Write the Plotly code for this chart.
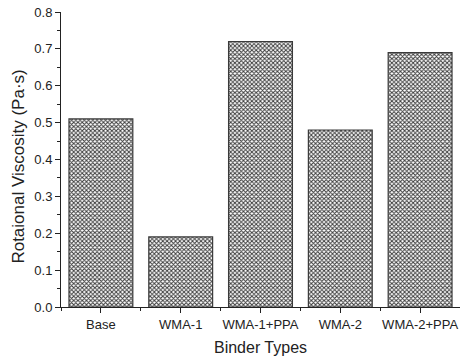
import plotly.graph_objects as go

categories = ["Base", "WMA-1", "WMA-1+PPA", "WMA-2", "WMA-2+PPA"]
viscosity = [0.51, 0.19, 0.72, 0.48, 0.69]
y_ticks = [0.0, 0.1, 0.2, 0.3, 0.4, 0.5, 0.6, 0.7, 0.8]

xpos = list(range(len(categories)))

fig = go.Figure()
fig.add_trace(go.Bar(
    x=xpos, y=viscosity, width=0.8,
    marker=dict(
        color="white",
        line=dict(color="#3a3a3a", width=1.2),
        pattern=dict(shape="x", size=3, solidity=0.55, fgcolor="#3c3c3c", bgcolor="white", fillmode="replace"),
    ),
))

fig.update_layout(
    width=460, height=361,
    margin=dict(l=61, r=0, t=12, b=54),
    plot_bgcolor="white", paper_bgcolor="white",
    showlegend=False,
    font=dict(family="Arial, Liberation Sans, sans-serif", color="#222"),
)
fig.update_xaxes(
    range=[-0.5, 4.5], automargin=False,
    tickvals=xpos, ticktext=categories,
    ticks="outside", ticklen=5, tickcolor="#222", tickwidth=1,
    showline=True, linecolor="#222", linewidth=1,
    showgrid=False, zeroline=False,
    tickfont=dict(size=13),
    minor=dict(tickvals=[-0.5 + i for i in range(6)], ticks="outside", ticklen=3, tickcolor="#222", showgrid=False),
    title=dict(text="Binder Types", font=dict(size=16), standoff=11),
)
fig.update_yaxes(
    range=[0, 0.8], automargin=False,
    tickvals=y_ticks, ticktext=[f"{v:.1f}" for v in y_ticks],
    ticks="outside", ticklen=5, tickcolor="#222", tickwidth=1,
    showline=True, linecolor="#222", linewidth=1,
    showgrid=False, zeroline=False,
    tickfont=dict(size=13),
    minor=dict(dtick=0.05, tick0=0, ticks="outside", ticklen=3, tickcolor="#222", showgrid=False),
)
fig.add_annotation(
    text="Rotaional Viscosity (Pa·s)", textangle=-90,
    xref="paper", yref="paper", x=-0.106, y=0.475,
    xanchor="center", yanchor="middle", showarrow=False,
    font=dict(size=17),
)

fig.write_html("out.html", config={"displayModeBar": False},
               post_script="document.body.style.margin='0';document.body.style.overflow='hidden';")
